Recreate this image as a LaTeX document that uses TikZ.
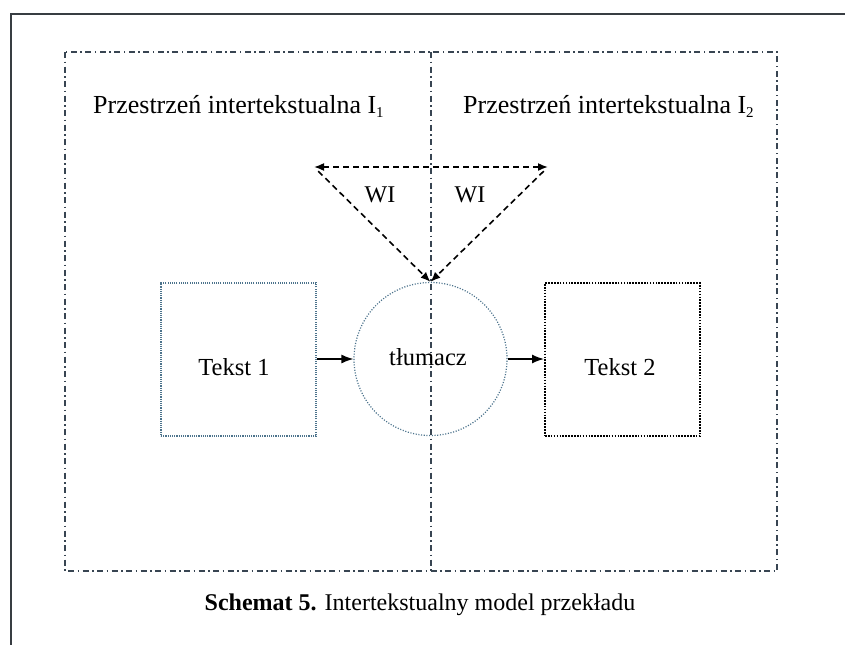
\documentclass[tikz,border=0pt]{standalone}
\usepackage{fontspec}
\setmainfont{Liberation Serif}
\usetikzlibrary{arrows.meta,calc}
\definecolor{frameg}{rgb}{0.22,0.24,0.26}
\definecolor{dashdot}{rgb}{0.22,0.27,0.32}
\definecolor{bluedot}{rgb}{0.30,0.45,0.55}
\tikzset{
  ddline/.style={draw=dashdot, line width=1.6pt, dash pattern=on 6pt off 3.5pt on 1.5pt off 3.5pt},
  finebox/.style={draw=bluedot, line width=1.3pt, dash pattern=on 1.1pt off 1.1pt, minimum width=155pt, minimum height=153pt, inner sep=0pt},
  boldbox/.style={draw=black, line width=2pt, dash pattern=on 1.6pt off 1.3pt, minimum width=155pt, minimum height=153pt, inner sep=0pt},
  dotcircle/.style={circle, draw=bluedot, line width=1.2pt, dash pattern=on 1.1pt off 1.6pt, minimum size=153pt, inner sep=0pt},
  lbl/.style={font=\fontsize{26}{30}\selectfont, inner sep=0pt},
  txt/.style={font=\fontsize{24.5}{28}\selectfont, inner sep=0pt, anchor=base},
  wi/.style={font=\fontsize{24}{28}\selectfont, inner sep=0pt, anchor=base},
  solidarrow/.style={line width=1.4pt, -{Latex[length=12pt,width=9pt]}},
  dasharrow/.style={line width=1.6pt, dash pattern=on 6pt off 4pt, -{Latex[length=10pt,width=8pt]}},
}
\begin{document}
\begin{tikzpicture}[x=1pt,y=-1pt]
\useasboundingbox (0,0) rectangle (845,645);
% outer page frame
\draw[frameg, line width=2pt] (845,14) -- (11,14) -- (11,645);
% dash-dot frame
\draw[ddline] (65,52) rectangle (777,571);
\draw[ddline] (431,52) -- (431,571);
% labels
\node[lbl, anchor=base west] (l1) at (93,113) {Przestrzeń intertekstualna I\raisebox{-4pt}{\fontsize{15}{15}\selectfont 1}};
\node[lbl, anchor=base west] (l2) at (463,113) {Przestrzeń intertekstualna I\raisebox{-4pt}{\fontsize{15}{15}\selectfont 2}};
% nodes
\node[finebox] (t1) at (238.5,359.5) {};
\node[boldbox] (t2) at (622.5,359.5) {};
\node[dotcircle] (c) at (430.5,359) {};
\node[txt] (t1t) at (234,375) {Tekst 1};
\node[txt] (t2t) at (620,375) {Tekst 2};
\node[txt] (ct) at (428,365) {tłumacz};
% arrows
\draw[solidarrow] (t1.east |- 0,359) -- (c.west);
\draw[solidarrow] (c.east) -- (t2.west |- 0,359);
% dashed triangle
\coordinate (L) at (314,167);
\coordinate (R) at (548,167);
\draw[dasharrow, {Latex[length=10pt,width=8pt]}-{Latex[length=10pt,width=8pt]}] (L) -- (R);
\draw[dasharrow, shorten <=6pt] (L) -- (c.north);
\draw[dasharrow, shorten <=6pt] (R) -- (c.north);
\node[wi] (w1) at (380,202) {WI};
\node[wi] (w2) at (470,202) {WI};
% caption
\node[font=\fontsize{24}{28}\selectfont, inner sep=0pt, anchor=base] (cap) at (420,610) {\textbf{Schemat 5.} Intertekstualny model przekładu};
\end{tikzpicture}
\end{document}
